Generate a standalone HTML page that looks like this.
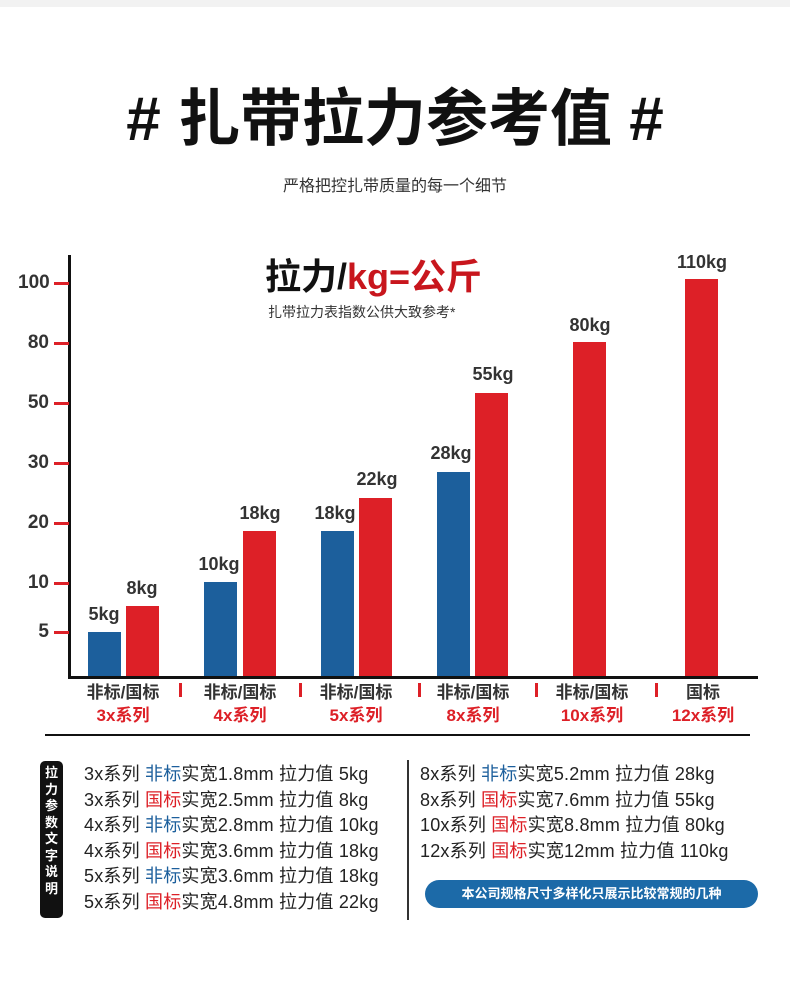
<!DOCTYPE html><html><head><meta charset="utf-8"><style>
body{margin:0;width:790px;height:1005px;background:#fff;position:relative;overflow:hidden;font-family:"Liberation Sans","Noto Sans CJK SC",sans-serif;color:#222}
.a{position:absolute;white-space:nowrap}
.bar{position:absolute;bottom:329px;width:33px}
.b{background:#1c5f9c}.r{background:#dd2027}
.v{position:absolute;font-weight:bold;font-size:18px;width:80px;text-align:center;color:#333}
.t{position:absolute;left:18px;width:31px;text-align:right;font-weight:bold;font-size:19px;color:#333}
.tk{position:absolute;left:54px;width:15px;height:3px;background:#dd2027}
.c{position:absolute;width:120px;text-align:center;font-size:17px;line-height:23px;font-weight:bold;color:#333}
.c span{color:#dd2027}
.sep{position:absolute;top:683px;width:3px;height:14px;background:#dd2027}
.row{position:absolute;font-size:18px;line-height:25.5px;color:#222;letter-spacing:0.2px}
.bl{color:#1c5f9c}.rd{color:#dd2027}
</style></head><body>
<div class="a" style="left:0;top:0;width:790px;height:7px;background:#f2f2f2"></div>
<div class="a" style="left:0;width:790px;top:80px;text-align:center;font-size:62px;font-weight:bold;color:#111;line-height:80px">#&nbsp;扎带拉力参考值&nbsp;#</div>
<div class="a" style="left:0;width:790px;top:172px;text-align:center;font-size:16px;color:#333">严格把控扎带质量的每一个细节</div>
<div class="a" style="left:265px;top:255px;font-size:36px;font-weight:bold;color:#111;line-height:44px">拉力/<span style="color:#c8161d">kg=公斤</span></div>
<div class="a" style="left:268px;top:302px;font-size:14px;color:#333">扎带拉力表指数公供大致参考*</div>
<div class="a" style="left:68px;top:255px;width:3px;height:424px;background:#111"></div>
<div class="a" style="left:68px;top:676px;width:690px;height:3px;background:#111"></div>
<div class="tk" style="top:282px"></div><div class="t" style="top:272px">100</div>
<div class="tk" style="top:342px"></div><div class="t" style="top:332px">80</div>
<div class="tk" style="top:402px"></div><div class="t" style="top:392px">50</div>
<div class="tk" style="top:462px"></div><div class="t" style="top:452px">30</div>
<div class="tk" style="top:522px"></div><div class="t" style="top:512px">20</div>
<div class="tk" style="top:582px"></div><div class="t" style="top:572px">10</div>
<div class="tk" style="top:631px"></div><div class="t" style="top:621px">5</div>
<div class="bar b" style="left:88px;top:632px"></div><div class="v" style="left:64px;top:604px">5kg</div>
<div class="bar r" style="left:126px;top:606px"></div><div class="v" style="left:102px;top:578px">8kg</div>
<div class="bar b" style="left:204px;top:582px"></div><div class="v" style="left:179px;top:554px">10kg</div>
<div class="bar r" style="left:243px;top:531px"></div><div class="v" style="left:220px;top:503px">18kg</div>
<div class="bar b" style="left:321px;top:531px"></div><div class="v" style="left:295px;top:503px">18kg</div>
<div class="bar r" style="left:359px;top:498px"></div><div class="v" style="left:337px;top:469px">22kg</div>
<div class="bar b" style="left:437px;top:472px"></div><div class="v" style="left:411px;top:443px">28kg</div>
<div class="bar r" style="left:475px;top:393px"></div><div class="v" style="left:453px;top:364px">55kg</div>
<div class="bar r" style="left:573px;top:342px"></div><div class="v" style="left:550px;top:315px">80kg</div>
<div class="bar r" style="left:685px;top:279px"></div><div class="v" style="left:662px;top:252px">110kg</div>
<div class="c" style="left:63px;top:681px">非标/国标<br><span>3x系列</span></div>
<div class="c" style="left:180px;top:681px">非标/国标<br><span>4x系列</span></div>
<div class="c" style="left:296px;top:681px">非标/国标<br><span>5x系列</span></div>
<div class="c" style="left:413px;top:681px">非标/国标<br><span>8x系列</span></div>
<div class="c" style="left:532px;top:681px">非标/国标<br><span>10x系列</span></div>
<div class="c" style="left:643px;top:681px">国标<br><span>12x系列</span></div>
<div class="sep" style="left:179px"></div><div class="sep" style="left:299px"></div><div class="sep" style="left:418px"></div><div class="sep" style="left:535px"></div><div class="sep" style="left:655px"></div>
<div class="a" style="left:45px;top:734px;width:705px;height:2px;background:#111"></div>
<div class="a" style="left:40px;top:761px;width:23px;height:157px;background:#111;border-radius:5px;color:#fff;font-size:13px;font-weight:bold;line-height:16.5px;text-align:center;padding-top:4px;box-sizing:border-box;white-space:normal">拉力参数文字说明</div>
<div class="row" style="left:84px;top:762px">3x系列 <span class="bl">非标</span>实宽1.8mm 拉力值 5kg<br>3x系列 <span class="rd">国标</span>实宽2.5mm 拉力值 8kg<br>4x系列 <span class="bl">非标</span>实宽2.8mm 拉力值 10kg<br>4x系列 <span class="rd">国标</span>实宽3.6mm 拉力值 18kg<br>5x系列 <span class="bl">非标</span>实宽3.6mm 拉力值 18kg<br>5x系列 <span class="rd">国标</span>实宽4.8mm 拉力值 22kg</div>
<div class="a" style="left:407px;top:760px;width:2px;height:160px;background:#333"></div>
<div class="row" style="left:420px;top:762px">8x系列 <span class="bl">非标</span>实宽5.2mm 拉力值 28kg<br>8x系列 <span class="rd">国标</span>实宽7.6mm 拉力值 55kg<br>10x系列 <span class="rd">国标</span>实宽8.8mm 拉力值 80kg<br>12x系列 <span class="rd">国标</span>实宽12mm 拉力值 110kg</div>
<div class="a" style="left:425px;top:880px;width:333px;height:28px;background:#1c6aa8;border-radius:14px;color:#fff;font-size:13px;font-weight:bold;text-align:center;line-height:28px">本公司规格尺寸多样化只展示比较常规的几种</div>
</body></html>
